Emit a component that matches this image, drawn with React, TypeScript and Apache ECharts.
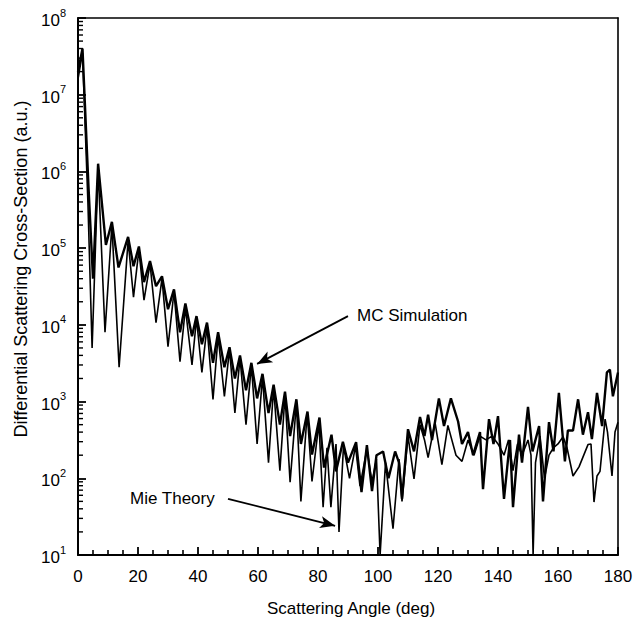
import React, { useEffect, useRef } from "react";
import * as echarts from "echarts";

const mcAngles = [0, 1.5, 3.5, 5, 6.7, 9.3, 11.3, 13.5, 16.7, 18.5, 20.3, 22, 24, 26, 28, 30, 32, 34, 35.8, 38, 39.5, 41.3, 43, 45, 46.7, 48.8, 50.5, 52.3, 54, 56, 57.8, 59.7, 61.5, 63.5, 65.2, 67.3, 69, 70.7, 72.8, 74.3, 76.5, 78, 80.5, 82, 84.5, 86, 88.3, 90, 92.7, 94.5, 96.3, 98, 99.5, 101.7, 103.5, 105.7, 107, 108, 110, 112, 114, 115.5, 116.7, 118, 120.3, 122, 124.3, 126.7, 128, 130, 131.7, 134, 135, 137, 138.5, 140, 142, 144, 145, 147, 148, 150, 151.5, 153.7, 155, 157, 158.5, 160.3, 162.3, 163.3, 165, 166.7, 168.3, 170, 171.3, 173, 174.7, 176.3, 177.3, 178.3, 180];
const mcValues = [2.0e7, 4.0e7, 6.3e5, 4.0e4, 1.26e6, 1.1e5, 2.2e5, 5.6e4, 1.4e5, 5.8e4, 1.05e5, 3.6e4, 6.8e4, 3.2e4, 4.3e4, 1.6e4, 2.9e4, 8.0e3, 1.9e4, 7.1e3, 1.3e4, 5.6e3, 1.07e4, 3.2e3, 8.0e3, 2.8e3, 5.1e3, 2.0e3, 4.0e3, 1.4e3, 3.2e3, 1.1e3, 2.3e3, 710, 1.66e3, 500, 1.35e3, 355, 1.07e3, 280, 740, 204, 620, 138, 370, 123, 300, 160, 295, 66, 270, 68, 200, 224, 100, 224, 160, 54, 436, 224, 630, 355, 676, 316, 1.1e3, 480, 1.1e3, 550, 280, 400, 200, 400, 72, 590, 280, 645, 54, 316, 42, 370, 160, 850, 224, 480, 50, 540, 224, 1.3e3, 166, 420, 420, 1.07e3, 370, 725, 325, 1.3e3, 480, 2.4e3, 2.6e3, 1.17e3, 2.4e3];

const mieAngles = [0, 1.5, 3.3, 4.7, 6.7, 9, 11.3, 13.7, 16.7, 18.5, 20.3, 22, 24, 26, 28, 30, 32, 34, 35.8, 38, 39.5, 41.3, 43, 45, 46.7, 48.8, 50.5, 52.3, 54, 56, 57.8, 59.7, 61.5, 63.5, 65.2, 67.3, 69, 70.7, 72.8, 74.3, 76.4, 78, 80.3, 81.7, 83, 84.3, 86, 87, 88.5, 90.5, 92.5, 94, 96.3, 98, 99.5, 100.7, 102.5, 105, 107, 108, 110, 112, 114, 115.5, 116.7, 119, 121.3, 123.3, 126, 128, 130, 132, 134, 136, 138, 140, 142, 143.5, 145, 146.5, 148, 150, 151, 151.7, 152.5, 154, 155.5, 157, 158.5, 160, 161.7, 163, 165, 167, 170, 171, 172, 173, 174, 175.7, 176.5, 178, 179, 180];
const mieValues = [1.6e7, 3.5e7, 4.0e5, 5.0e3, 1.1e6, 8.0e3, 2.0e5, 2.8e3, 1.26e5, 2.3e4, 9.5e4, 2.1e4, 6.3e4, 1.07e4, 4.0e4, 5.2e3, 2.7e4, 3.3e3, 1.66e4, 3.0e3, 1.2e4, 2.4e3, 9.5e3, 1.07e3, 7.1e3, 1.17e3, 4.8e3, 710, 3.7e3, 500, 2.95e3, 280, 2.1e3, 160, 1.5e3, 126, 1.2e3, 89, 955, 50, 710, 91, 525, 42, 250, 42, 280, 20, 263, 100, 263, 79, 240, 89, 178, 10, 160, 22, 178, 50, 355, 98, 500, 316, 186, 537, 151, 490, 200, 166, 316, 200, 355, 316, 355, 280, 200, 316, 126, 280, 200, 316, 200, 10, 160, 355, 100, 200, 250, 280, 347, 250, 107, 141, 275, 280, 49, 107, 123, 590, 400, 107, 400, 537];

const xTicks = [0, 20, 40, 60, 80, 100, 120, 140, 160, 180];
const yDecades = [1, 2, 3, 4, 5, 6, 7];
const yMinorMultipliers = [2, 3, 4, 5, 6, 7, 8, 9];
const yName = "Differential Scattering Cross-Section (a.u.)";
const xName = "Scattering Angle (deg)";
const mcLabel = "MC Simulation";
const mieLabel = "Mie Theory";
const mcArrow = [[90, 13000], [59.7, 3100]];
const mieArrow = [[50, 54], [85.7, 24]];

const FONT = "Liberation Sans, Arial, sans-serif";

export default function App() {
  const ref = useRef<HTMLDivElement>(null);
  useEffect(() => {
    if (!ref.current) return;
    const chart = echarts.init(ref.current, null, { renderer: "svg" });
    const mcData = mcAngles.map((a, i) => [a, mcValues[i]]);
    const mieData = mieAngles.map((a, i) => [a, mieValues[i]]);
    const minorTickData: number[][] = [];
    yDecades.forEach((d) => yMinorMultipliers.forEach((m) => minorTickData.push([0, m * Math.pow(10, d)])));
    chart.setOption({
      animation: false,
      backgroundColor: "#fff",
      textStyle: { fontFamily: FONT },
      grid: { left: 78, right: 26, top: 18, bottom: 67, containLabel: false },
      xAxis: [
        {
          type: "value",
          min: 0,
          max: 180,
          interval: 20,
          axisLine: { show: true, onZero: false, lineStyle: { color: "#000", width: 2 } },
          axisTick: { show: true, inside: true, length: 8, lineStyle: { color: "#000", width: 1.8 } },
          minorTick: { show: true, splitNumber: 4, length: 5, lineStyle: { color: "#000", width: 1.6 } },
          splitLine: { show: false },
          axisLabel: {
            color: "#000",
            fontSize: 17,
            margin: 13,
            fontFamily: FONT,
            formatter: (v: number) => (xTicks.includes(v) ? String(v) : ""),
          },
        },
        {
          type: "value",
          position: "top",
          min: 0,
          max: 180,
          axisLine: { show: true, onZero: false, lineStyle: { color: "#000", width: 1.6 } },
          axisTick: { show: false },
          axisLabel: { show: false },
          splitLine: { show: false },
        },
      ],
      yAxis: [
        {
          type: "log",
          logBase: 10,
          min: 10,
          max: 1e8,
          interval: 1,
          axisLine: { show: true, onZero: false, lineStyle: { color: "#000", width: 2 } },
          axisTick: { show: true, inside: true, length: 8, lineStyle: { color: "#000", width: 1.8 } },
          splitLine: { show: false },
          axisLabel: {
            margin: 12,
            formatter: (v: number) => `{b|10}{s|${Math.round(Math.log10(v))}}`,
            rich: {
              b: { fontSize: 17, color: "#000", fontFamily: FONT, lineHeight: 22, verticalAlign: "bottom" },
              s: { fontSize: 11, color: "#000", fontFamily: FONT, lineHeight: 22, verticalAlign: "top" },
            },
          },
        },
        {
          type: "log",
          logBase: 10,
          position: "right",
          min: 10,
          max: 1e8,
          axisLine: { show: true, onZero: false, lineStyle: { color: "#000", width: 1.6 } },
          axisTick: { show: false },
          axisLabel: { show: false },
          splitLine: { show: false },
        },
      ],
      graphic: [
        { type: "text", x: 21, y: 269, rotation: Math.PI / 2, style: { text: yName, fontSize: 18, fontFamily: FONT, fill: "#000", textAlign: "center", textVerticalAlign: "middle" } },
        { type: "text", x: 351, y: 608, style: { text: xName, fontSize: 17, fontFamily: FONT, fill: "#000", textAlign: "center", textVerticalAlign: "middle" } },
        { type: "text", x: 357, y: 315, style: { text: mcLabel, fontSize: 17, fontFamily: FONT, fill: "#000", textAlign: "left", textVerticalAlign: "middle" } },
        { type: "text", x: 130, y: 498, style: { text: mieLabel, fontSize: 17, fontFamily: FONT, fill: "#000", textAlign: "left", textVerticalAlign: "middle" } },
      ],
      series: [
        {
          type: "custom",
          silent: true,
          clip: false,
          coordinateSystem: "cartesian2d",
          encode: { x: 0, y: 1 },
          data: minorTickData,
          z: 10,
          renderItem: (params: any, api: any) => {
            const p = api.coord([api.value(0), api.value(1)]);
            return {
              type: "line",
              shape: { x1: p[0], y1: p[1], x2: p[0] + 5, y2: p[1] },
              style: { stroke: "#000", lineWidth: 1.4 },
            };
          },
        },
        {
          name: mieLabel,
          type: "line",
          data: mieData,
          showSymbol: false,
          lineStyle: { color: "#000", width: 1.6 },
          z: 2,
          markLine: {
            silent: true,
            symbol: ["none", "arrow"],
            symbolSize: [9, 15],
            label: { show: false },
            lineStyle: { color: "#000", width: 1.8, type: "solid" },
            data: [[{ coord: mieArrow[0] }, { coord: mieArrow[1] }]],
          },
        },
        {
          name: mcLabel,
          type: "line",
          data: mcData,
          showSymbol: false,
          lineStyle: { color: "#000", width: 2.4 },
          z: 3,
          markLine: {
            silent: true,
            symbol: ["none", "arrow"],
            symbolSize: [9, 15],
            label: { show: false },
            lineStyle: { color: "#000", width: 1.8, type: "solid" },
            data: [[{ coord: mcArrow[0] }, { coord: mcArrow[1] }]],
          },
        },
      ],
    });
    return () => chart.dispose();
  }, []);
  return <div ref={ref} style={{ position: "absolute", left: 0, top: 0, width: 644, height: 622 }} />;
}
